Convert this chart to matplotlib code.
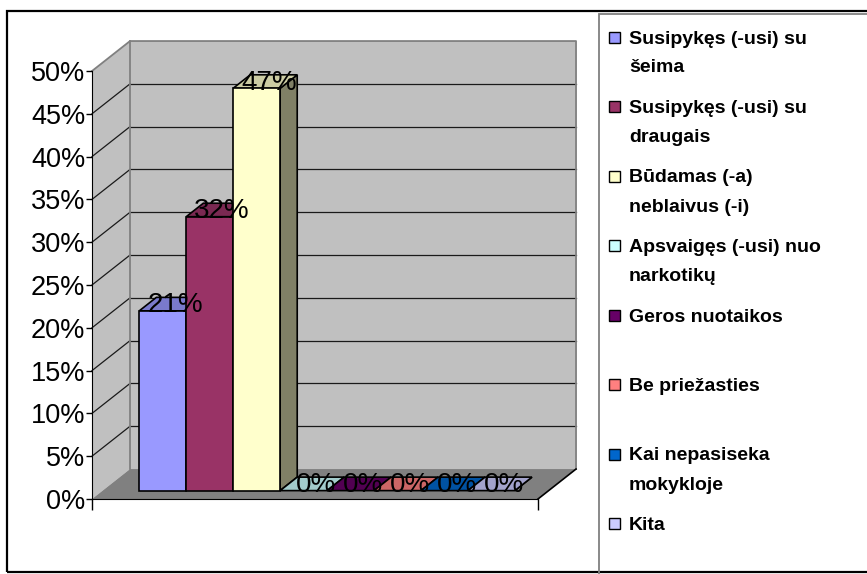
# 3D-style column chart (Excel look) of reasons, percentages

import textwrap
import numpy as np
import matplotlib
matplotlib.use('Agg')
import matplotlib.pyplot as plt
from matplotlib.patches import Polygon, Rectangle

plt.rcParams['font.family'] = ['Liberation Sans', 'DejaVu Sans']

# data
categories = ['Susipykęs (-usi) su šeima', 'Susipykęs (-usi) su draugais',
              'Būdamas (-a) neblaivus (-i)', 'Apsvaigęs (-usi) nuo narkotikų',
              'Geros nuotaikos', 'Be priežasties', 'Kai nepasiseka mokykloje', 'Kita']
values = [21, 32, 47, 0, 0, 0, 0, 0]
colors = ['#9999FF', '#993366', '#FFFFCC', '#CCFFFF',
          '#660066', '#FF8080', '#0066CC', '#CCCCFF']
yticks = list(range(0, 55, 5))


def shade(c, k):
    rgb = np.array(matplotlib.colors.to_rgb(c))
    return tuple(rgb * k)


W, H = 867, 574
fig = plt.figure(figsize=(W / 100, H / 100), dpi=100)
ax = fig.add_axes([92 / W, 1 - 499 / H, 446 / W, 428 / H])
ax.set_facecolor('none')
XMAX = 9.5
ax.set_xlim(0, XMAX)
ax.set_ylim(0, 50)

# depth of the 3d box in data units
DX, DY = 0.81, 3.5
f0, f1 = 0.28, 0.73   # bar depth range (fractions of full depth)

# walls
side = Polygon([(0, 0), (DX, DY), (DX, 50 + DY), (0, 50)], closed=True,
               facecolor='#C0C0C0', edgecolor='none', clip_on=False, zorder=0.5)
back = Polygon([(DX, DY), (XMAX + DX, DY), (XMAX + DX, 50 + DY), (DX, 50 + DY)],
               closed=True, facecolor='#C0C0C0', edgecolor='none', clip_on=False, zorder=0.5)
floor = Polygon([(0, 0), (XMAX, 0), (XMAX + DX, DY), (DX, DY)], closed=True,
                facecolor='#808080', edgecolor='none', clip_on=False, zorder=0.7)
for p in (side, back, floor):
    ax.add_patch(p)

for v in yticks[1:-1]:
    ax.plot([DX, XMAX + DX], [v + DY, v + DY], color='#1a1a1a', lw=0.9, clip_on=False, zorder=0.6)
    ax.plot([0, DX], [v, v + DY], color='#1a1a1a', lw=0.9, clip_on=False, zorder=0.6)

edge = dict(color='#808080', lw=1.3, clip_on=False, zorder=0.8)
ax.plot([0, DX, XMAX + DX, XMAX + DX], [50, 50 + DY, 50 + DY, DY], **edge)
ax.plot([DX, DX], [DY, 50 + DY], **edge)
ax.plot([XMAX, XMAX + DX], [0, DY], color='black', lw=1.2, clip_on=False, zorder=0.8)

# bars
bdx, bdy = (f1 - f0) * DX, (f1 - f0) * DY
for i, (v, c) in enumerate(zip(values, colors)):
    x0 = 0.78 + i + f0 * DX
    y0 = f0 * DY
    z = 2 + i * 0.1
    kw = dict(closed=True, edgecolor='black', lw=1.2, joinstyle='miter', zorder=z)
    ax.add_patch(Polygon([(x0 + 1, y0), (x0 + 1, y0 + v), (x0 + 1 + bdx, y0 + v + bdy),
                          (x0 + 1 + bdx, y0 + bdy)], facecolor=shade(c, 0.5), **kw))
    ax.add_patch(Polygon([(x0, y0 + v), (x0 + 1, y0 + v), (x0 + 1 + bdx, y0 + v + bdy),
                          (x0 + bdx, y0 + v + bdy)], facecolor=shade(c, 0.8), **kw))
    if v > 0:
        ax.add_patch(Rectangle((x0, y0), 1, v, facecolor=c, edgecolor='black',
                               lw=1.2, zorder=z + 0.01))

for i, v in enumerate(values):
    x0 = 0.78 + i + f0 * DX
    ax.text(x0 + 0.5 + 0.26, v + f0 * DY - 0.18, f'{v}%', ha='center', va='baseline',
            fontsize=20, color='black', zorder=10)

# axes
for s in ('top', 'right'):
    ax.spines[s].set_visible(False)
ax.spines['left'].set_color('black')
ax.spines['bottom'].set_color('black')
ax.set_yticks(yticks)
ax.set_yticklabels([f'{v}%' for v in yticks])
ax.tick_params(axis='y', direction='out', length=4.3, width=1, pad=0.5, labelsize=19.5)
ax.set_xticks([0, XMAX])
ax.set_xticklabels([])
ax.tick_params(axis='x', direction='out', length=8, width=1)
ax.xaxis.get_major_ticks()[1].tick1line.set_color('#808080')


def fx(x):
    return x / W


def fy(y):
    return 1 - y / H


# outer frame and legend box
fig.add_artist(Rectangle((fx(7), fy(572)), fx(875) - fx(7), fy(11) - fy(572),
                         transform=fig.transFigure, facecolor='none', edgecolor='black', lw=1.6))
fig.add_artist(Rectangle((fx(599), fy(590)), fx(880) - fx(599), fy(14) - fy(590),
                         transform=fig.transFigure, facecolor='none', edgecolor='#808080', lw=1.3))

# legend
for k, (name, c) in enumerate(zip(categories, colors)):
    yc = 37 + 69.5 * k
    fig.add_artist(Rectangle((fx(609), fy(yc + 5.5)), fx(11), 11 / H, transform=fig.transFigure,
                             facecolor=c, edgecolor='black', lw=1))
    for j, line in enumerate(textwrap.wrap(name, 20)):
        fig.text(fx(629), fy(yc + 6.5 + 29 * j), line, fontsize=14, fontweight='bold',
                 va='baseline', ha='left')

fig.savefig('out.png', dpi=100)
